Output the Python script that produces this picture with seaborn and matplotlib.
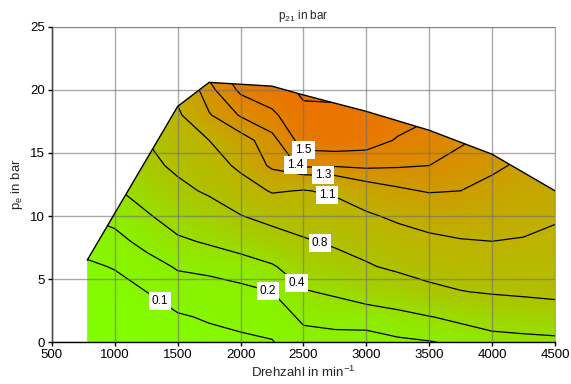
import numpy as np
import matplotlib.pyplot as plt
import seaborn as sns
from matplotlib.colors import LinearSegmentedColormap
from matplotlib.patches import Polygon

sns.set_style('ticks')
plt.rcParams['font.family'] = ['Liberation Sans', 'DejaVu Sans']
plt.rcParams['mathtext.fontset'] = 'custom'
plt.rcParams['mathtext.rm'] = 'Liberation Sans'

# Stuetzstellen des Kennfelds (aus dem Bild abgeschaetzt)
drehzahl = [750, 1000, 1250, 1500, 1750, 2000, 2250, 2500,
            2750, 3000, 3250, 3500, 3750, 4000, 4250, 4500]
pe_stuetz = [0, 2, 4, 6, 8, 10, 12, 14, 16, 18, 20, 21]

# p21 in bar, eine Zeile je pe-Stuetzstelle
p21 = np.array([
    [0.02, 0.03, 0.04, 0.05, 0.07, 0.08, 0.095, 0.16, 0.16, 0.155, 0.17, 0.19, 0.23, 0.30, 0.32, 0.34],
    [0.04, 0.05, 0.07, 0.09, 0.11, 0.13, 0.14, 0.22, 0.24, 0.25, 0.32, 0.39, 0.46, 0.53, 0.56, 0.58],
    [0.06, 0.07, 0.10, 0.15, 0.15, 0.17, 0.20, 0.38, 0.44, 0.55, 0.60, 0.72, 0.79, 0.83, 0.86, 0.90],
    [0.085, 0.105, 0.16, 0.21, 0.23, 0.26, 0.37, 0.57, 0.66, 0.77, 0.86, 0.93, 0.97, 0.99, 0.99, 0.98],
    [0.13, 0.17, 0.23, 0.36, 0.43, 0.54, 0.65, 0.77, 0.85, 0.92, 1.00, 1.06, 1.09, 1.10, 1.09, 1.06],
    [0.20, 0.23, 0.37, 0.52, 0.62, 0.79, 0.90, 0.95, 1.00, 1.07, 1.14, 1.18, 1.19, 1.17, 1.15, 1.12],
    [0.30, 0.37, 0.52, 0.71, 0.85, 0.98, 1.12, 1.09, 1.13, 1.23, 1.28, 1.31, 1.30, 1.25, 1.21, 1.17],
    [0.42, 0.50, 0.70, 0.87, 0.98, 1.15, 1.33, 1.42, 1.41, 1.42, 1.41, 1.40, 1.37, 1.33, 1.27, 1.22],
    [0.55, 0.65, 0.80, 0.95, 1.10, 1.25, 1.365, 1.55, 1.57, 1.55, 1.49, 1.46, 1.41, 1.38, 1.31, 1.26],
    [0.70, 0.80, 0.90, 1.07, 1.29, 1.41, 1.48, 1.58, 1.59, 1.58, 1.55, 1.51, 1.45, 1.42, 1.34, 1.29],
    [0.85, 0.95, 1.00, 1.15, 1.37, 1.52, 1.56, 1.615, 1.61, 1.60, 1.58, 1.54, 1.48, 1.45, 1.36, 1.31],
    [0.90, 1.00, 1.05, 1.20, 1.41, 1.56, 1.58, 1.62, 1.62, 1.61, 1.59, 1.55, 1.49, 1.46, 1.37, 1.32],
])

# Volllastlinie
vl_drehzahl = [780, 1500, 1750, 2250, 2500, 3000, 3500, 4000, 4500]
vl_pe = [6.5, 18.7, 20.6, 20.3, 19.6, 18.3, 16.8, 14.9, 12.0]

# Isolinien und Beschriftungen
linien = [0.1, 0.2, 0.4, 0.8, 1.1, 1.3, 1.4, 1.5, 1.6]
beschriftet = [0.1, 0.2, 0.4, 0.8, 1.1, 1.3, 1.4, 1.5]
label_x = [1343, 2218, 2447, 2632, 2690, 2655, 2408, 2496]
label_y = [3.1, 4.1, 4.7, 7.9, 11.8, 13.1, 13.9, 15.0]

farben = LinearSegmentedColormap.from_list('p21', [
    (0.0, '#80ff00'), (0.2, '#94e400'), (0.45, '#aac600'), (0.65, '#bcb400'),
    (0.78, '#cc9e00'), (0.88, '#de8600'), (1.0, '#f06c00')])

fig, ax = plt.subplots(figsize=(5.71, 3.84), dpi=100)
fig.subplots_adjust(left=0.091, right=0.972, bottom=0.109, top=0.93)

rand = Polygon(list(zip(vl_drehzahl, vl_pe)) + [(4500, 0), (780, 0)],
               closed=True, transform=ax.transData)

flaeche = ax.contourf(drehzahl, pe_stuetz, p21, levels=np.linspace(0, 1.65, 160),
                      cmap=farben, zorder=0, antialiased=False)
flaeche.set_clip_path(rand)

cs = ax.contour(drehzahl, pe_stuetz, p21, levels=linien, colors='black',
                linewidths=0.9, zorder=2)
cs.set_clip_path(rand)

texte = ax.clabel(cs, levels=beschriftet, inline=False, fontsize=8.5, fmt='%.1f',
                  manual=list(zip(label_x, label_y)))
for t in texte:
    t.set_rotation(0)
    t.set_bbox(dict(facecolor='white', edgecolor='none', pad=2.2))
    t.set_zorder(4)

ax.plot(vl_drehzahl, vl_pe, color='black', lw=1, zorder=3)

ax.set_xlim(500, 4500)
ax.set_ylim(0, 25)
ax.set_xticks(range(500, 4501, 500))
ax.set_yticks(range(0, 26, 5))
ax.set_axisbelow(False)
ax.grid(True, color='#707070', alpha=0.6, lw=1)
for s in ['top', 'right']:
    ax.spines[s].set_color('#a8a8a8')
for s in ['left', 'bottom']:
    ax.spines[s].set_color('black')
    ax.spines[s].set_linewidth(1)
ax.tick_params(direction='out', length=3, width=1, labelsize=9.5, colors='black', pad=2)

ax.set_title(r'p$_{\mathregular{21}}$ in bar', fontsize=8.5, pad=6)
ax.set_xlabel(r'Drehzahl in min$^{\mathregular{-1}}$', fontsize=9.5, labelpad=3)
ax.set_ylabel(r'p$_{\mathregular{e}}$ in bar', fontsize=9.5, labelpad=4)

plt.savefig('out.png', dpi=100)
plt.close()
